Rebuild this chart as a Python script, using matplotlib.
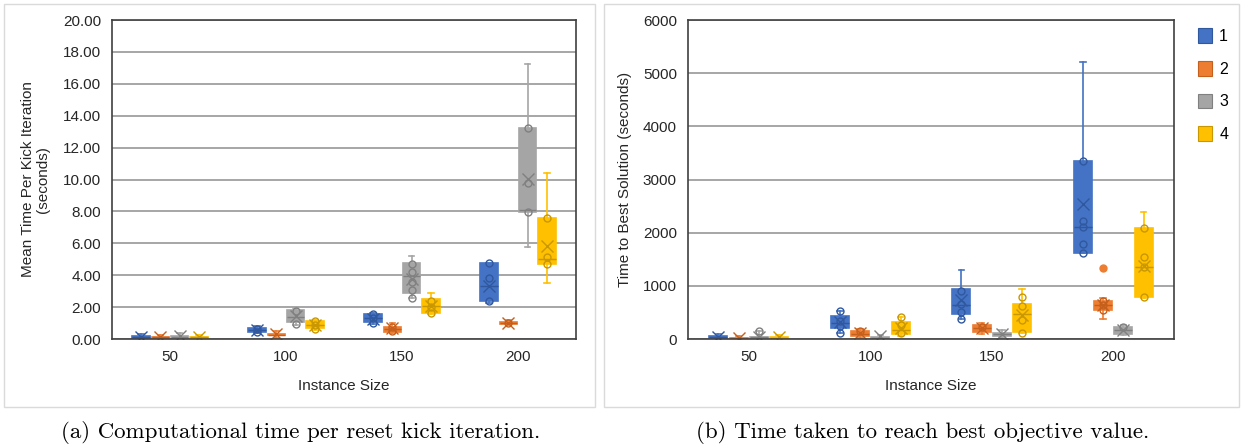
import numpy as np
import matplotlib
matplotlib.use("Agg")
import matplotlib.pyplot as plt
from matplotlib.patches import Patch, Rectangle

plt.rcParams['font.family'] = ['Liberation Sans', 'DejaVu Sans']

# categories and series
sizes = ["50", "100", "150", "200"]
series = ["1", "2", "3", "4"]
fill_colors = ["#4472C4", "#ED7D31", "#A5A5A5", "#FFC000"]
dark_colors = ["#30589F", "#C45F1C", "#808080", "#C99700"]

# (a) mean time per kick iteration -- rows = series 1..4, cols = sizes 50..200
a_lo = [[0.02, 0.36, 0.95, 2.25], [0.02, 0.05, 0.36, 0.85],
        [0.05, 0.89, 2.60, 5.76], [0.02, 0.57, 1.57, 3.53]]
a_q1 = [[0.08, 0.47, 1.05, 2.41], [0.07, 0.22, 0.47, 0.95],
        [0.10, 1.04, 2.90, 7.94], [0.06, 0.66, 1.62, 4.70]]
a_med = [[0.12, 0.55, 1.30, 3.30], [0.10, 0.28, 0.62, 1.00],
         [0.15, 1.40, 3.96, 8.08], [0.10, 0.85, 2.10, 5.02]]
a_q3 = [[0.17, 0.68, 1.55, 4.76], [0.14, 0.34, 0.78, 1.07],
        [0.20, 1.80, 4.74, 13.23], [0.14, 1.10, 2.48, 7.56]]
a_hi = [[0.30, 0.80, 1.62, 4.76], [0.25, 0.50, 0.98, 1.20],
        [0.35, 1.95, 5.23, 17.23], [0.28, 1.20, 2.90, 10.41]]
a_mean = [[0.15, 0.57, 1.28, 3.32], [0.12, 0.30, 0.66, 1.02],
          [0.17, 1.42, 3.75, 10.03], [0.10, 0.89, 2.05, 5.86]]
a_pts = [[[], [0.45, 0.65], [1.00, 1.30, 1.55], [2.41, 3.81, 4.76]],
         [[], [], [0.50, 0.75], [1.00]],
         [[], [0.95, 1.73], [2.60, 3.05, 3.60, 4.20, 4.70], [7.94, 9.78, 13.23]],
         [[], [0.65, 0.90, 1.12], [1.60, 2.00, 2.40], [4.70, 5.12, 7.56]]]
a_out = [[[], [], [], []], [[], [], [], []], [[], [], [], []], [[], [], [], []]]

# (b) time to best solution
b_lo = [[5, 110, 370, 1614], [0, 20, 89, 380],
        [5, 5, 40, 80], [0, 62, 121, 762]]
b_q1 = [[20, 216, 463, 1614], [8, 62, 140, 551],
        [15, 15, 57, 89], [10, 93, 140, 787]]
b_med = [[35, 309, 648, 2101], [15, 100, 200, 633],
         [30, 25, 90, 160], [25, 173, 475, 1346]]
b_q3 = [[50, 432, 938, 3354], [25, 150, 267, 709],
        [45, 40, 121, 235], [40, 327, 667, 2089]]
b_hi = [[90, 525, 1290, 5203], [60, 185, 298, 772],
        [150, 70, 171, 267], [80, 420, 934, 2394]]
b_mean = [[40, 327, 741, 2544], [18, 105, 203, 646],
          [40, 55, 89, 171], [30, 216, 456, 1378]]
b_pts = [[[], [110, 250, 330, 525], [370, 500, 650, 900], [1614, 1785, 2101, 2228, 3354]],
         [[], [150], [230], [551, 633, 709]],
         [[150], [], [], [220]],
         [[], [120, 260, 420], [121, 361, 627, 791], [787, 1346, 1536, 2089]]]
b_out = [[[], [], [], []], [[], [], [], [1329]], [[], [], [], []], [[], [], [], []]]

offsets = [-0.25, -0.083, 0.083, 0.25]


def draw_panel(ax, lo, q1, med, q3, hi, mean, pts, out):
    for s in range(len(series)):
        c, d = fill_colors[s], dark_colors[s]
        stats = []
        for g in range(len(sizes)):
            stats.append(dict(whislo=lo[s][g], q1=q1[s][g], med=med[s][g],
                              q3=q3[s][g], whishi=hi[s][g], mean=mean[s][g],
                              fliers=out[s][g]))
        pos = np.arange(len(sizes)) + offsets[s]
        ax.bxp(stats, positions=pos, widths=0.15, capwidths=0.045,
               patch_artist=True, showmeans=True, manage_ticks=False,
               boxprops=dict(facecolor=c, edgecolor=c, linewidth=1.2),
               whiskerprops=dict(color=c, linewidth=1.2),
               capprops=dict(color=c, linewidth=1.2),
               medianprops=dict(color=d, linewidth=1.0),
               meanprops=dict(marker='x', markeredgecolor=d, markersize=9,
                              markeredgewidth=1.0),
               flierprops=dict(marker='o', markerfacecolor=c,
                               markeredgecolor=c, markersize=5))
        for g in range(len(sizes)):
            if pts[s][g]:
                ax.plot([pos[g]] * len(pts[s][g]), pts[s][g], 'o', ms=5,
                        mfc='none', mec=d, mew=1.0, zorder=4)
    ax.set_xlim(-0.5, len(sizes) - 0.5)
    ax.set_xticks(np.arange(len(sizes)))
    ax.set_xticklabels(sizes)
    ax.yaxis.grid(True, color='#A6A6A6', linewidth=1.4)
    ax.set_axisbelow(True)
    ax.tick_params(length=0, labelsize=11, pad=8, colors='#262626')
    for sp in ax.spines.values():
        sp.set_color('#404040')
        sp.set_linewidth(1.2)
    ax.set_xlabel("Instance Size", fontsize=11, color='#262626')
    ax.xaxis.set_label_coords(0.5, -0.125)


fig = plt.figure(figsize=(12.42, 4.48), dpi=100)

# light panel frames
fig.patches.append(Rectangle((4 / 1242, 1 - 407 / 448), 591 / 1242, 403 / 448,
                             transform=fig.transFigure, fill=False,
                             edgecolor='#DADADA', linewidth=1))
fig.patches.append(Rectangle((604 / 1242, 1 - 407 / 448), 635 / 1242, 403 / 448,
                             transform=fig.transFigure, fill=False,
                             edgecolor='#DADADA', linewidth=1))

ax1 = fig.add_axes([112 / 1242, 1 - 339 / 448, 464 / 1242, 319 / 448])
draw_panel(ax1, a_lo, a_q1, a_med, a_q3, a_hi, a_mean, a_pts, a_out)
ax1.set_ylim(0, 20)
ax1.set_yticks(np.arange(0, 21, 2))
ax1.set_yticklabels([f"{v:.2f}" for v in np.arange(0, 21, 2)])
ax1.set_ylabel("Mean Time Per Kick Iteration\n(seconds)", fontsize=11,
               color='#262626', linespacing=1.1)
ax1.yaxis.set_label_coords(-0.134, 0.5)

ax2 = fig.add_axes([688 / 1242, 1 - 339 / 448, 486 / 1242, 319 / 448])
draw_panel(ax2, b_lo, b_q1, b_med, b_q3, b_hi, b_mean, b_pts, b_out)
ax2.set_ylim(0, 6000)
ax2.set_yticks(np.arange(0, 6001, 1000))
ax2.set_ylabel("Time to Best Solution (seconds)", fontsize=11, color='#262626')
ax2.yaxis.set_label_coords(-0.115, 0.5)

handles = [Patch(facecolor=fill_colors[i], edgecolor=dark_colors[i], linewidth=0.8)
           for i in range(len(series))]
fig.legend(handles, series, loc='upper left',
           bbox_to_anchor=(1184 / 1242, 1 - 14 / 448), frameon=False,
           fontsize=11.5, handlelength=0.85, handleheight=1.05,
           handletextpad=0.45, labelspacing=1.05)

fig.text(301 / 1242, 1 - 432 / 448,
         "(a) Computational time per reset kick iteration.",
         family='cmr10', fontsize=16.5, ha='center', va='center')
fig.text(923 / 1242, 1 - 432 / 448,
         "(b) Time taken to reach best objective value.",
         family='cmr10', fontsize=16.5, ha='center', va='center')

fig.savefig("out.png", dpi=100)
